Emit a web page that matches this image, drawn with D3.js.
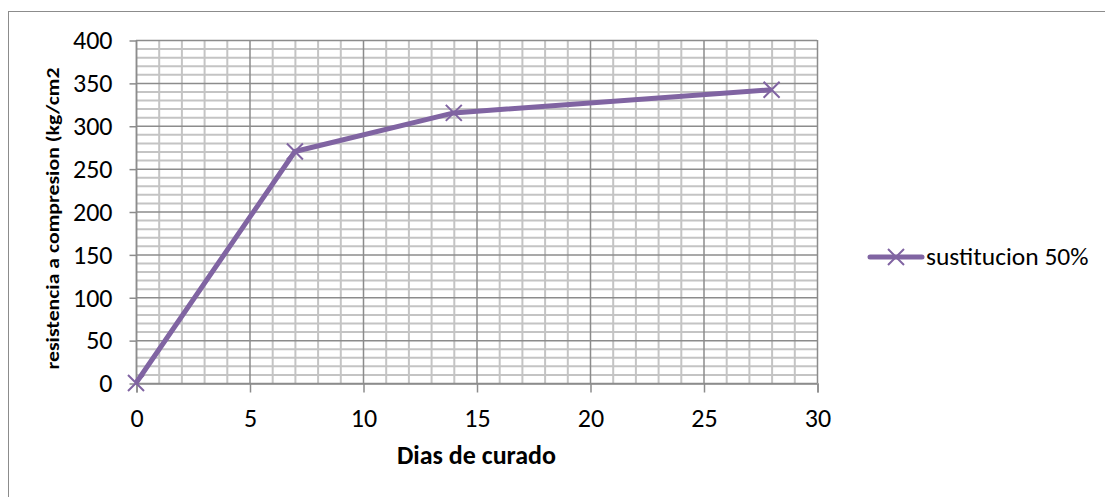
<!DOCTYPE html>
<html>
<head>
<meta charset="utf-8">
<script src="https://cdn.jsdelivr.net/npm/d3@7"></script>
<style>
  html, body { margin: 0; padding: 0; background: #fff; }
  svg { display: block; font-family: Carlito, "Open Sans", "Liberation Sans", sans-serif; }
</style>
</head>
<body>
<svg id="chart" width="1105" height="497"></svg>
<script>
// Compressive strength vs. curing days
const days = [0, 7, 14, 28];
const strength = [0, 270, 315, 342];
const seriesName = "sustitucion 50%";
const xTicks = [0, 5, 10, 15, 20, 25, 30];
const yTicks = [0, 50, 100, 150, 200, 250, 300, 350, 400];
const xTitle = "Dias de curado";
const yTitle = "resistencia a compresion (kg/cm2";

(function () {
  const svg = d3.select("#chart");
  const purple = "#8064a2";
  const fontStack = 'Carlito, "Open Sans", "Liberation Sans", sans-serif';

  // Outer chart border
  svg.append("rect")
    .attr("x", 8.5).attr("y", 11.5)
    .attr("width", 1110).attr("height", 500)
    .attr("fill", "#fff").attr("stroke", "#8c8c8c").attr("stroke-width", 1);

  const pl = 136, pr = 817, pt = 40, pb = 383;
  const x = d3.scaleLinear().domain([0, 30]).range([pl, pr]);
  const y = d3.scaleLinear().domain([0, 400]).range([pb, pt]);

  const g = svg.append("g");

  // Minor gridlines
  const minorX = d3.range(0, 31, 1).filter(v => v % 5 !== 0);
  const minorY = d3.range(0, 401, 10).filter(v => v % 50 !== 0);
  g.selectAll(".mx").data(minorX).join("line")
    .attr("x1", d => x(d) + 0.5).attr("x2", d => x(d) + 0.5)
    .attr("y1", pt).attr("y2", pb)
    .attr("stroke", "#c4c4c4").attr("stroke-width", 2);
  g.selectAll(".my").data(minorY).join("line")
    .attr("x1", pl).attr("x2", pr)
    .attr("y1", d => y(d) + 0.5).attr("y2", d => y(d) + 0.5)
    .attr("stroke", "#c4c4c4").attr("stroke-width", 2);

  // Major gridlines
  g.selectAll(".Mx").data(xTicks).join("line")
    .attr("x1", d => x(d) + 0.5).attr("x2", d => x(d) + 0.5)
    .attr("y1", pt).attr("y2", pb)
    .attr("stroke", "#8c8c8c").attr("stroke-width", 1.5);
  g.selectAll(".My").data(yTicks).join("line")
    .attr("x1", pl).attr("x2", pr)
    .attr("y1", d => y(d) + 0.5).attr("y2", d => y(d) + 0.5)
    .attr("stroke", "#8c8c8c").attr("stroke-width", 1.5);

  // Axes
  const xAxis = d3.axisBottom(x).tickValues(xTicks).tickSize(9).tickPadding(16);
  const yAxis = d3.axisLeft(y).tickValues(yTicks).tickSize(7).tickPadding(17);

  const gx = svg.append("g").attr("transform", `translate(0.5,${pb + 0.5})`).call(xAxis);
  const gy = svg.append("g").attr("transform", `translate(${pl + 0.5},0.5)`).call(yAxis);
  [gx, gy].forEach(a => {
    a.attr("font-family", fontStack).attr("font-size", 26);
    a.select(".domain").attr("stroke", "#8c8c8c").attr("stroke-width", 1.5);
    a.selectAll(".tick line").attr("stroke", "#8c8c8c").attr("stroke-width", 1.5);
    a.selectAll(".tick text").attr("fill", "#000");
  });
  gy.select(".domain").attr("d", `M0,${pt}V${pb}`);

  // Axis titles
  svg.append("text")
    .attr("x", (pl + pr) / 2).attr("y", 464)
    .attr("text-anchor", "middle").attr("font-size", 26).attr("font-weight", "bold")
    .text(xTitle);
  svg.append("text")
    .attr("transform", `translate(59,${(pt + pb) / 2 + 7}) rotate(-90)`)
    .attr("text-anchor", "middle").attr("font-size", 18).attr("font-weight", "bold")
    .attr("textLength", 302).attr("lengthAdjust", "spacingAndGlyphs")
    .text(yTitle);

  // Series line
  const pts = days.map((d, i) => [d, strength[i]]);
  svg.append("path")
    .datum(pts)
    .attr("fill", "none").attr("stroke", purple).attr("stroke-width", 5)
    .attr("stroke-linejoin", "round")
    .attr("d", d3.line().x(d => x(d[0])).y(d => y(d[1])));

  // X markers
  const m = 8;
  const markers = svg.append("g").selectAll("g").data(pts).join("g")
    .attr("transform", d => `translate(${x(d[0])},${y(d[1])})`);
  markers.append("path")
    .attr("d", `M${-m},${-m}L${m},${m}M${-m},${m}L${m},${-m}`)
    .attr("stroke", purple).attr("stroke-width", 2).attr("fill", "none");

  // Legend
  const ly = 257;
  const lg = svg.append("g");
  lg.append("line").attr("x1", 870).attr("x2", 922).attr("y1", ly).attr("y2", ly)
    .attr("stroke", purple).attr("stroke-width", 5).attr("stroke-linecap", "round");
  lg.append("path")
    .attr("d", `M${896 - m},${ly - m}L${896 + m},${ly + m}M${896 - m},${ly + m}L${896 + m},${ly - m}`)
    .attr("stroke", purple).attr("stroke-width", 2);
  lg.append("text").attr("x", 926).attr("y", ly + 8)
    .attr("font-size", 25.5).attr("fill", "#000").text(seriesName);
})();
</script>
</body>
</html>
